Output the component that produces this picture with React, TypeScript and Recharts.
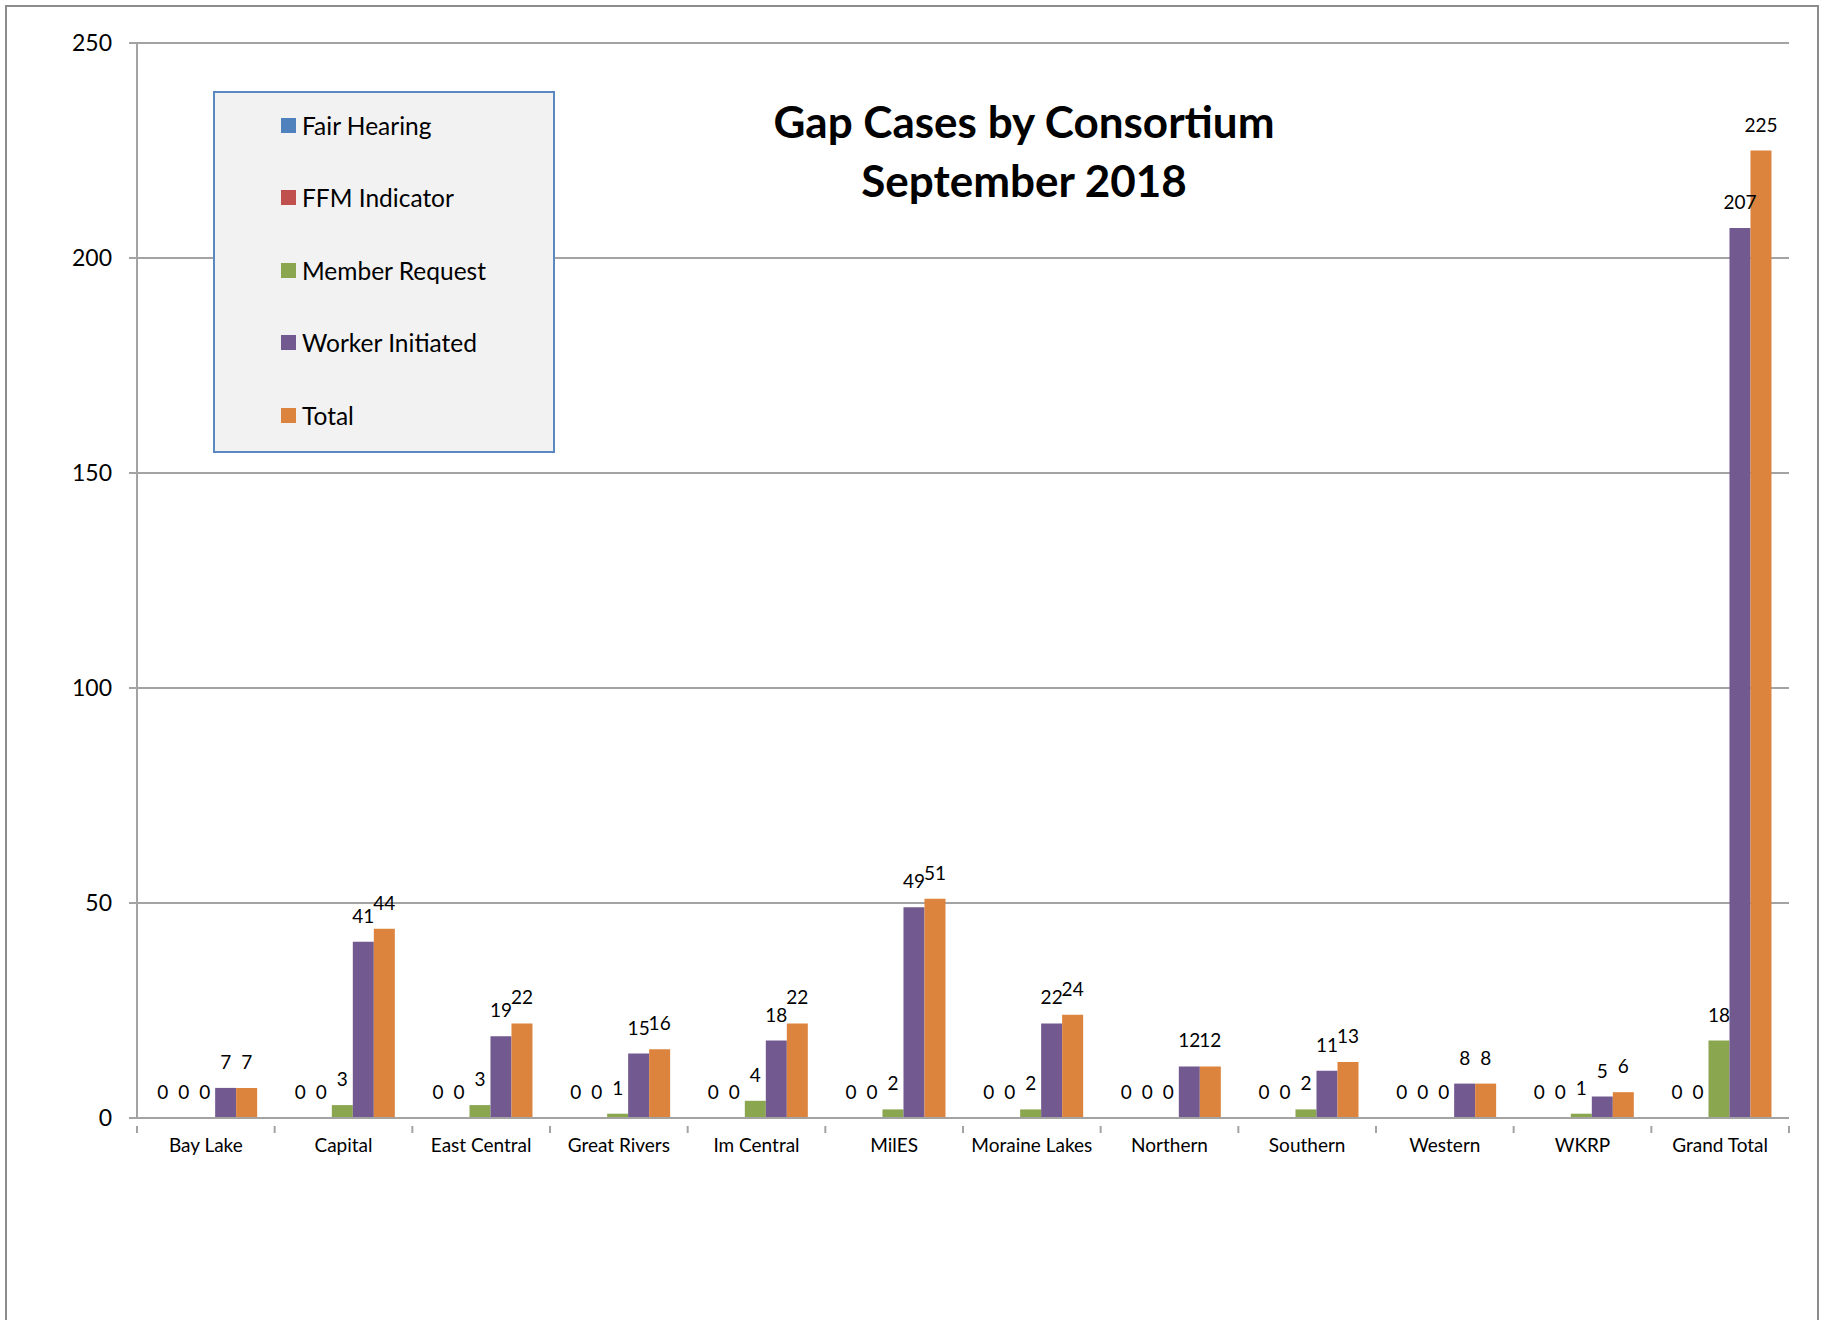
import { Bar, BarChart, CartesianGrid, LabelList, XAxis, YAxis } from "recharts";

const CONSORTIA = [
  "Bay Lake",
  "Capital",
  "East Central",
  "Great Rivers",
  "Im Central",
  "MilES",
  "Moraine Lakes",
  "Northern",
  "Southern",
  "Western",
  "WKRP",
  "Grand Total",
];
const FAIR_HEARING = [0, 0, 0, 0, 0, 0, 0, 0, 0, 0, 0, 0];
const FFM_INDICATOR = [0, 0, 0, 0, 0, 0, 0, 0, 0, 0, 0, 0];
const MEMBER_REQUEST = [0, 3, 3, 1, 4, 2, 2, 0, 2, 0, 1, 18];
const WORKER_INITIATED = [7, 41, 19, 15, 18, 49, 22, 12, 11, 8, 5, 207];
const TOTAL = [7, 44, 22, 16, 22, 51, 24, 12, 13, 8, 6, 225];
const Y_TICKS = [0, 50, 100, 150, 200, 250];

const SERIES = [
  { key: "fh", name: "Fair Hearing", color: "#4f81bd" },
  { key: "ffm", name: "FFM Indicator", color: "#c0504d" },
  { key: "mr", name: "Member Request", color: "#8aa64f" },
  { key: "wi", name: "Worker Initiated", color: "#72598f" },
  { key: "tot", name: "Total", color: "#dc833e" },
];

const DATA = CONSORTIA.map((c, i) => ({
  c,
  fh: FAIR_HEARING[i],
  ffm: FFM_INDICATOR[i],
  mr: MEMBER_REQUEST[i],
  wi: WORKER_INITIATED[i],
  tot: TOTAL[i],
}));

const FONT = "Lato, 'Open Sans', sans-serif";
const GRID = "#a3a3a3";
const BAND = 1652 / 12;

function XTick(props: any) {
  const { x, y, payload, index } = props;
  return (
    <g>
      <line x1={x - BAND / 2} x2={x - BAND / 2} y1={y} y2={y + 7} stroke={GRID} strokeWidth={2} />
      {index === CONSORTIA.length - 1 && (
        <line x1={x + BAND / 2} x2={x + BAND / 2} y1={y} y2={y + 7} stroke={GRID} strokeWidth={2} />
      )}
      <text x={x} y={y + 26} textAnchor="middle" fontSize={19} fill="#000" fontFamily={FONT}>
        {payload.value}
      </text>
    </g>
  );
}

// legend drawn as a plain box, Recharts' Legend would eat into the plot area
function LegendBox() {
  return (
    <div
      style={{
        position: "absolute",
        left: 213,
        top: 91,
        width: 338,
        height: 358,
        background: "#f2f2f2",
        border: "2px solid #5b87c2",
        fontFamily: FONT,
        fontSize: 24.5,
        color: "#000",
      }}
    >
      {SERIES.map((s, i) => (
        <div
          key={s.key}
          style={{
            position: "absolute",
            left: 66,
            top: 17 + i * 72.5,
            height: 30,
            display: "flex",
            alignItems: "center",
            whiteSpace: "nowrap",
          }}
        >
          <span style={{ width: 15, height: 15, background: s.color, marginRight: 6, display: "inline-block" }} />
          {s.name}
        </div>
      ))}
    </div>
  );
}

export default function App() {
  return (
    <div style={{ position: "absolute", left: 0, top: 0, width: 1826, height: 1320, overflow: "hidden", background: "#fff" }}>
      <div
        style={{
          position: "absolute",
          left: 5,
          top: 5,
          width: 1810,
          height: 1340,
          borderLeft: "2px solid #8c8c8c",
          borderTop: "2px solid #8c8c8c",
          borderRight: "2px solid #8c8c8c",
        }}
      />
      <BarChart
        width={1826}
        height={1320}
        data={DATA}
        margin={{ top: 43, right: 37, bottom: 142, left: 0 }}
        barCategoryGap="11%"
        barGap={0}
        style={{ position: "absolute", left: 0, top: 0 }}
      >
        <CartesianGrid horizontal vertical={false} stroke={GRID} strokeWidth={2} />
        <XAxis
          dataKey="c"
          height={60}
          axisLine={{ stroke: GRID, strokeWidth: 2 }}
          tickLine={false}
          tick={<XTick />}
          interval={0}
        />
        <YAxis
          width={137}
          domain={[0, 250]}
          ticks={Y_TICKS}
          axisLine={{ stroke: GRID, strokeWidth: 2 }}
          tickLine={{ stroke: GRID, strokeWidth: 2 }}
          tickSize={8}
          tickMargin={17}
          tick={{ fontSize: 23, fill: "#000", fontFamily: FONT }}
        />
        {SERIES.map((s) => (
          <Bar
            key={s.key}
            dataKey={s.key}
            name={s.name}
            fill={s.color}
            minPointSize={0.01}
            isAnimationActive={false}
          >
            <LabelList
              dataKey={s.key}
              position="top"
              offset={19}
              fontSize={19}
              fill="#000"
              fontFamily={FONT}
              formatter={(v: any) => String(v)}
            />
          </Bar>
        ))}
      </BarChart>
      <LegendBox />
      <div
        style={{
          position: "absolute",
          left: 724,
          top: 92,
          width: 600,
          textAlign: "center",
          fontFamily: FONT,
          fontWeight: 700,
          fontSize: 44,
          lineHeight: "59px",
          color: "#000",
        }}
      >
        Gap Cases by Consortium
        <br />
        September 2018
      </div>
    </div>
  );
}
